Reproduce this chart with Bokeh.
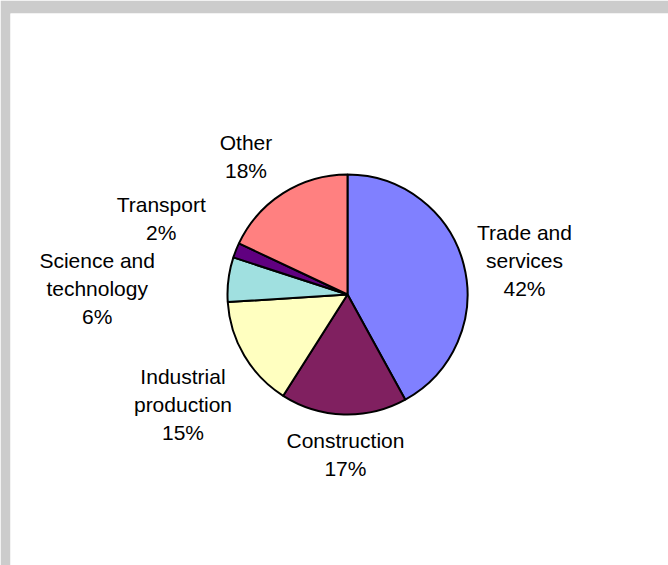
import math
from bokeh.plotting import figure
from bokeh.models import Range1d, ColumnDataSource
from bokeh.core.properties import value
from bokeh.embed import file_html
from bokeh.resources import INLINE

# ---- data ----
categories = ["Trade and\nservices", "Construction", "Industrial\nproduction",
              "Science and\ntechnology", "Transport", "Other"]
shares = [42, 17, 15, 6, 2, 18]
colors = ["#8080FF", "#802060", "#FFFFC0", "#A0E0E0", "#600080", "#FF8080"]

# label anchor positions (layout, in pie-radius units)
label_x = [1.475, -0.017, -1.371, -2.086, -1.552, -0.846]
label_y = [0.283, -1.333, -0.917, 0.05, 0.633, 1.15]

total = float(sum(shares))
starts, ends = [], []
cum = 0.0
for s in shares:
    a0 = math.pi / 2 - 2 * math.pi * (cum + s) / total
    a1 = math.pi / 2 - 2 * math.pi * cum / total
    starts.append(a0)
    ends.append(a1)
    cum += s

labels = [f"{c}\n{round(100 * s / total)}%" for c, s in zip(categories, shares)]

src = ColumnDataSource(dict(start=starts, end=ends, color=colors))
lsrc = ColumnDataSource(dict(x=label_x, y=label_y, text=labels))

W, H = 668, 565
left, top = 10, 13
scale = 120.0
cx_px, cy_px = 337.0, 281.0
pw, ph = W - left, H - top

p = figure(width=W, height=H, output_backend="svg", toolbar_location=None,
           x_range=Range1d(-cx_px / scale, (pw - cx_px) / scale),
           y_range=Range1d(-(ph - cy_px) / scale, cy_px / scale),
           min_border_left=left, min_border_top=top,
           min_border_right=0, min_border_bottom=0,
           border_fill_color="#CCCCCC", background_fill_color="white",
           outline_line_color=None)
p.axis.visible = False
p.grid.visible = False

p.wedge(x=0, y=0, radius=1, start_angle="start", end_angle="end",
        fill_color="color", line_color="black", line_width=2, source=src)

p.text(x="x", y="y", text="text", source=lsrc,
       text_font=value("Liberation Sans"), text_font_size="21px",
       text_align="center", text_baseline="middle", text_line_height=1.2,
       text_color="black")

open("out.html", "w").write(file_html(p, INLINE))
